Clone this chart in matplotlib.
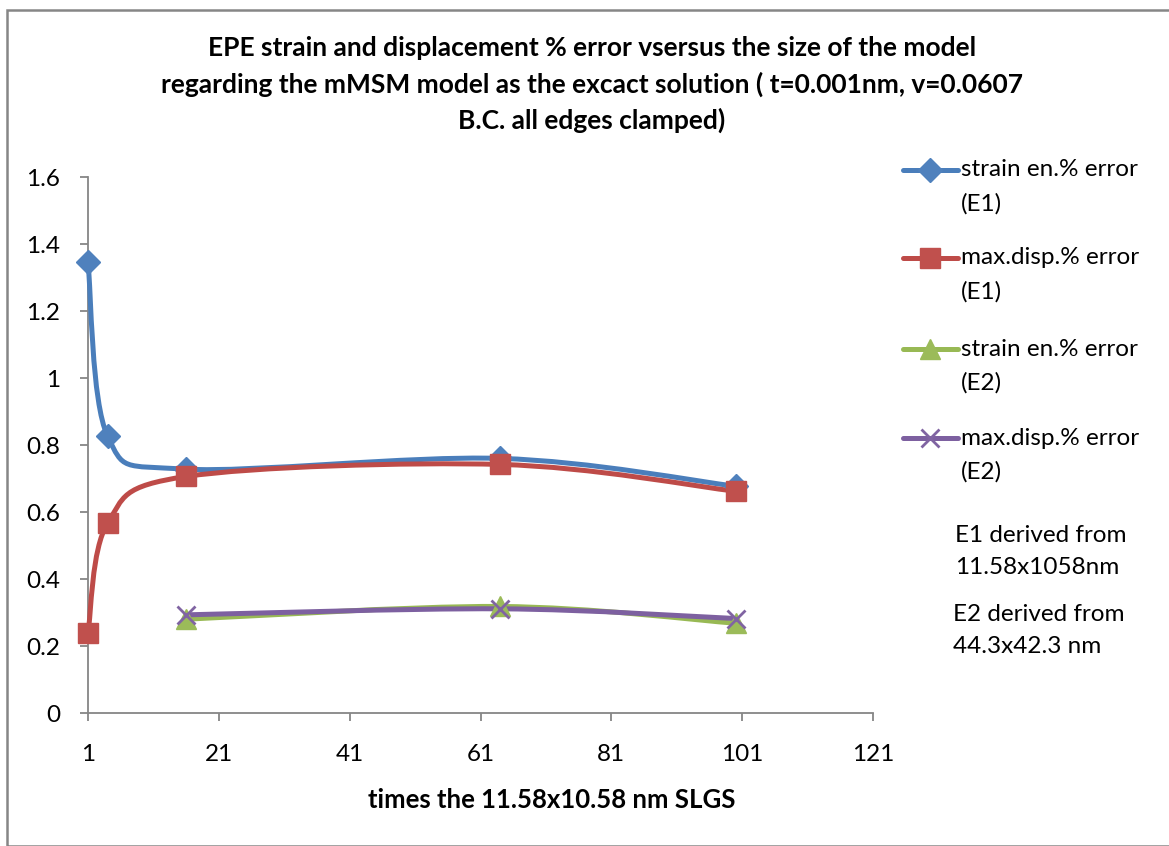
import numpy as np
import matplotlib
matplotlib.use("Agg")
import matplotlib.pyplot as plt
from matplotlib.path import Path
from matplotlib.patches import PathPatch, Rectangle
from matplotlib.lines import Line2D

plt.rcParams['font.family'] = ['Lato', 'DejaVu Sans']

# ---- data ----
x_e1 = [1, 4, 16, 64, 100]
strain_e1 = [1.345, 0.826, 0.728, 0.760, 0.677]
disp_e1 = [0.239, 0.567, 0.706, 0.742, 0.662]

x_e2 = [16, 64, 100]
strain_e2 = [0.280, 0.318, 0.268]
disp_e2 = [0.293, 0.311, 0.282]

series_labels = [("strain en.% error", "(E1)"), ("max.disp.% error", "(E1)"),
                 ("strain en.% error", "(E2)"), ("max.disp.% error", "(E2)")]
x_ticks = [1, 21, 41, 61, 81, 101, 121]
y_ticks = [0, 0.2, 0.4, 0.6, 0.8, 1.0, 1.2, 1.4, 1.6]
y_tick_labels = ["0", "0.2", "0.4", "0.6", "0.8", "1", "1.2", "1.4", "1.6"]

title_lines = ["EPE strain and displacement % error vsersus the size of the model",
               "regarding the mMSM model as the excact solution ( t=0.001nm, v=0.0607",
               "B.C. all edges clamped)"]
x_label = "times the 11.58x10.58 nm SLGS"
notes = [("E1 derived from", "11.58x1058nm"), ("E2 derived from", "44.3x42.3 nm")]

styles = [
    dict(line="#4A7EBB", face="#4F81BD", marker="D", ms=12.5),
    dict(line="#BE4B48", face="#C0504D", marker="s", ms=14.5),
    dict(line="#98B954", face="#9BBB59", marker="^", ms=14),
    dict(line="#7D60A0", face="#8064A2", marker="x", ms=12.5),
]

W, H = 1169, 846
fig = plt.figure(figsize=(W / 100, H / 100), dpi=100)


def fx(px):
    return px / W


def fy(py):
    return 1 - py / H


# chart frame
fig.add_artist(Rectangle((fx(7), 0), 1.0, 1 - 10 / H, transform=fig.transFigure,
                         fill=False, edgecolor="#868686", linewidth=1.8))

ax = fig.add_axes([fx(88), fy(713), (873 - 88) / W, (713 - 177) / H])
ax.set_xlim(1, 121)
ax.set_ylim(0, 1.6)


def smooth_path(xs, ys):
    """Cubic Bezier through all points (Catmull-Rom style, tension 1/6)."""
    pts = np.column_stack([xs, ys]).astype(float)
    n = len(pts)
    verts = [pts[0]]
    codes = [Path.MOVETO]
    for i in range(n - 1):
        p0 = pts[i - 1] if i > 0 else pts[i]
        p1 = pts[i]
        p2 = pts[i + 1]
        p3 = pts[i + 2] if i + 2 < n else pts[i + 1]
        c1 = p1 + (p2 - p0) / 6.0
        c2 = p2 - (p3 - p1) / 6.0
        verts += [c1, c2, p2]
        codes += [Path.CURVE4] * 3
    return Path(verts, codes)


all_series = [(x_e1, strain_e1), (x_e1, disp_e1), (x_e2, strain_e2), (x_e2, disp_e2)]
for (xs, ys), st in zip(all_series, styles):
    ax.add_patch(PathPatch(smooth_path(xs, ys), facecolor="none", edgecolor=st["line"],
                           linewidth=3.6, capstyle="round", joinstyle="round",
                           zorder=2, clip_on=False))
    if st["marker"] == "x":
        ax.plot(xs, ys, linestyle="none", marker="x", ms=st["ms"], mew=2,
                color=st["face"], zorder=3, clip_on=False)
    else:
        ax.plot(xs, ys, linestyle="none", marker=st["marker"], ms=st["ms"],
                mfc=st["face"], mec=st["face"], zorder=3, clip_on=False)

for s in ["top", "right"]:
    ax.spines[s].set_visible(False)
for s in ["left", "bottom"]:
    ax.spines[s].set_color("#868686")
    ax.spines[s].set_linewidth(1.3)
    ax.spines[s].set_zorder(1)
ax.set_xticks(x_ticks)
ax.set_xticklabels([str(v) for v in x_ticks])
ax.set_yticks(y_ticks)
ax.set_yticklabels(y_tick_labels)
ax.tick_params(axis="both", colors="#868686", labelcolor="black", labelsize=17.5,
               length=6, width=1.3, direction="out")
ax.tick_params(axis="x", pad=16)
ax.tick_params(axis="y", pad=14)

for line, yy in zip(title_lines, [48, 84, 120]):
    fig.text(fx(592), fy(yy), line, ha="center", va="center", fontsize=19,
             fontweight="bold")
fig.text(fx(552), fy(800), x_label, ha="center", va="center", fontsize=18.5,
         fontweight="bold")

# legend
leg_y = [170, 258, 349, 438]
for (l1, l2), st, yy in zip(series_labels, styles, leg_y):
    ln = Line2D([fx(903), fx(930), fx(958)], [fy(yy)] * 3, transform=fig.transFigure,
                color=st["line"], linewidth=3.6, solid_capstyle="round",
                marker=st["marker"], markevery=[1], ms=st["ms"],
                mfc=st["face"], mec=st["face"], mew=2 if st["marker"] == "x" else 1)
    fig.add_artist(ln)
    fig.text(fx(961), fy(yy), l1, ha="left", va="center", fontsize=17.5)
    fig.text(fx(961), fy(yy + 34), l2, ha="left", va="center", fontsize=17.5)

for (l1, l2), xx, yy in zip(notes, [955, 953], [535, 614]):
    fig.text(fx(xx), fy(yy), l1, ha="left", va="center", fontsize=17.5)
    fig.text(fx(xx), fy(yy + 32), l2, ha="left", va="center", fontsize=17.5)

fig.savefig("out.png", dpi=100, facecolor="white")
